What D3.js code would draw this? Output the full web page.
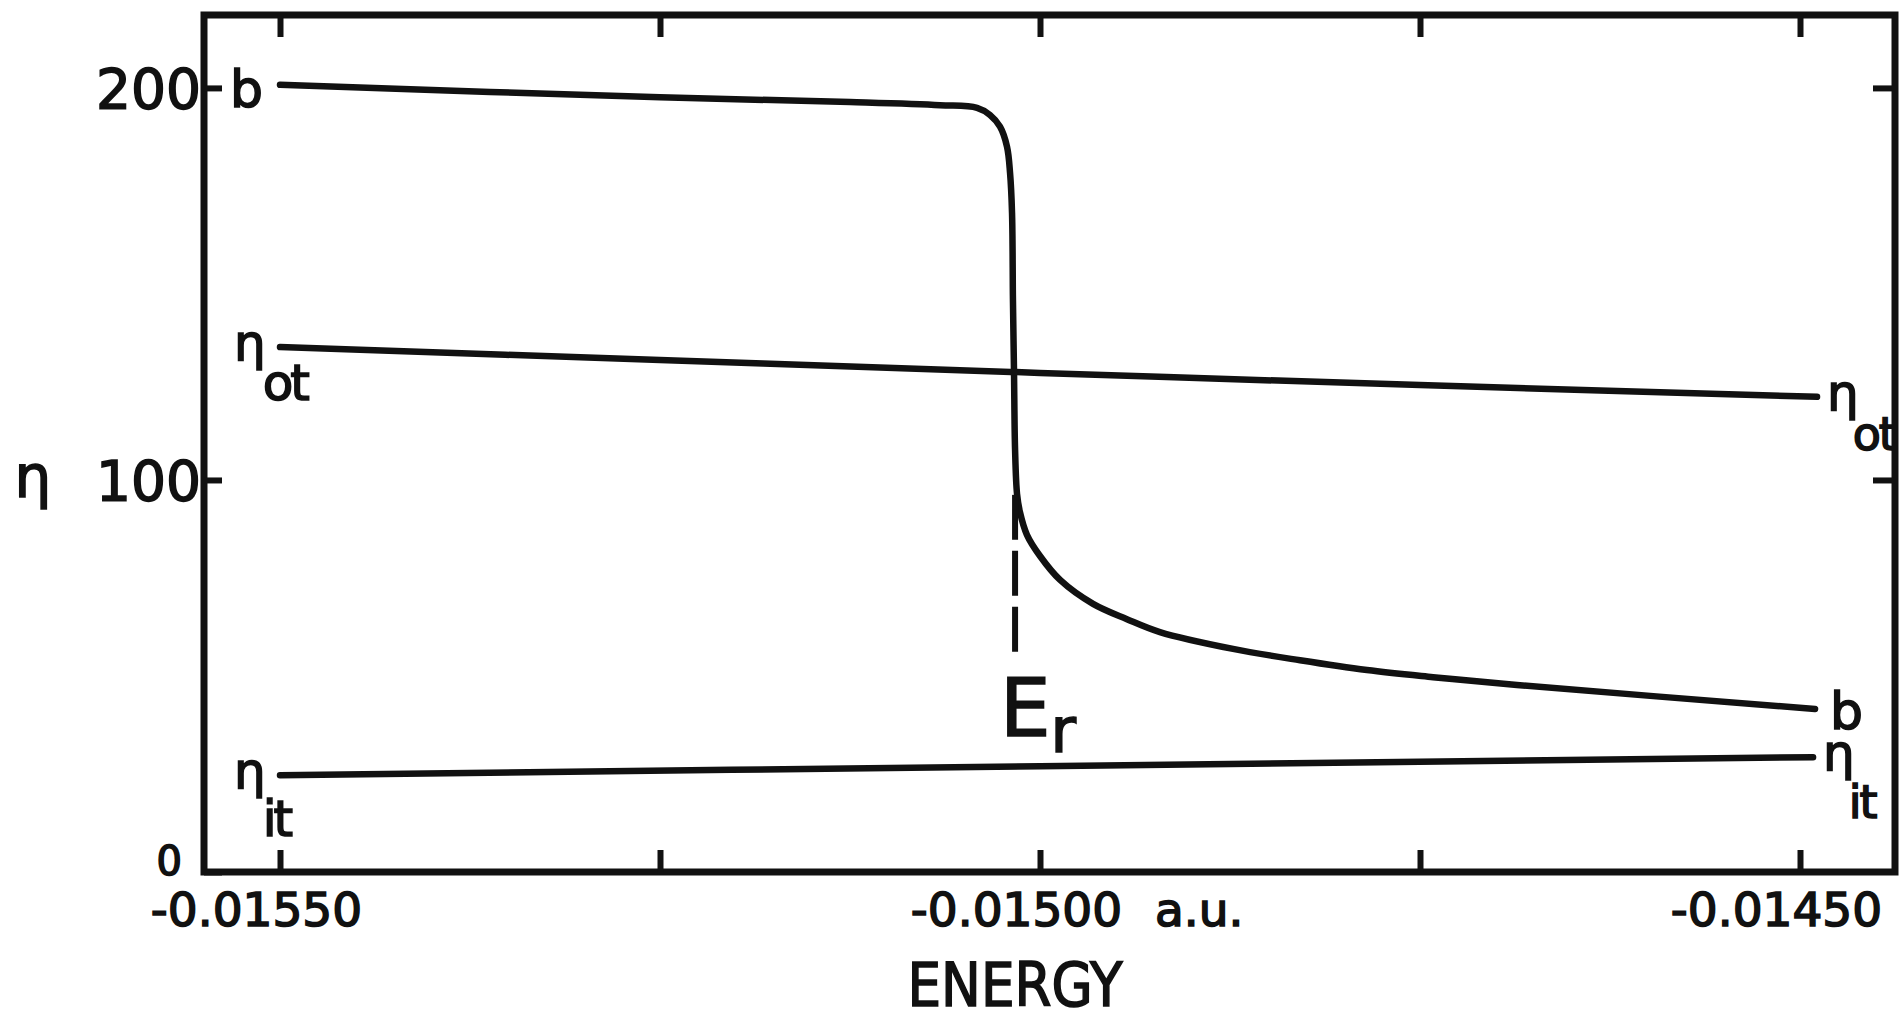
<!DOCTYPE html>
<html>
<head>
<meta charset="utf-8">
<script src="https://cdn.jsdelivr.net/npm/d3@7"></script>
<style>
  body { margin: 0; background: #fff; }
  svg { display: block; font-family: "DejaVu Sans", sans-serif; }
  .curve { fill: none; stroke: #111; stroke-width: 6.5; stroke-linecap: round; stroke-linejoin: round; }
  .frame { fill: none; stroke: #111; stroke-width: 7; }
  .axis path { display: none; }
  .axis line { stroke: #111; stroke-width: 6; }
  text { fill: #111; stroke: #111; stroke-width: 1.6px; }
</style>
</head>
<body>
<svg width="1900" height="1021"></svg>
<script>
// energy (a.u.) vs eta
const bEnergy = [
  -0.01550, -0.01525, -0.015125, -0.0150658, -0.0150414, -0.0150329, -0.0150263,
  -0.0150217, -0.0150197, -0.0150184, -0.0150178, -0.0150171, -0.0150164, -0.0150151,
  -0.0150132, -0.0150086, -0.0150000, -0.0149868, -0.0149651, -0.0149428, -0.0149211,
  -0.0148730, -0.0148289, -0.0147849, -0.0147414, -0.0146862, -0.0144901
]
const bEta = [
  200.8, 197.6, 196.4, 195.6, 194.9, 193.1, 190.1,
  185.0, 178.3, 168.1, 145.9, 127.6, 107.7, 96.4,
  91.8, 86.0, 80.6, 74.5, 68.4, 64.5, 61.2,
  56.9, 54.0, 51.5, 49.7, 47.7, 41.6
]
const otEnergy = [-0.01550, -0.01525, -0.01500, -0.01475, -0.0144888]
const otEta = [133.9, 130.6, 127.3, 124.2, 121.2]
const itEnergy = [-0.01550, -0.01500, -0.0144914]
const itEta = [24.7, 27.0, 29.3]

// resonance energy E_r and the span of its dashed marker
const resonanceEnergy = -0.0150164
const resonanceEta = [96.2, 54.1]

const energyRange = [-0.01555, -0.0144375]
const etaRange = [0, 218.6]
const energyTicks = [-0.01550, -0.01525, -0.01500, -0.01475, -0.01450]
const energyLabels = ['-0.01550', '', '-0.01500', '', '-0.01450']
const etaTicks = [0, 100, 200]

const svg = d3.select('svg')

const x = d3.scaleLinear().domain(energyRange).range([204, 1895])
const y = d3.scaleLinear().domain(etaRange).range([872, 15])

// frame
svg.append('rect')
  .attr('class', 'frame')
  .attr('x', x(energyRange[0]))
  .attr('y', y(etaRange[1]))
  .attr('width', x(energyRange[1]) - x(energyRange[0]))
  .attr('height', y(etaRange[0]) - y(etaRange[1]))

// bottom axis, ticks point inward
const bottom = svg.append('g')
  .attr('class', 'axis')
  .attr('transform', `translate(0, ${y(0)})`)
  .call(d3.axisBottom(x).tickValues(energyTicks).tickSizeInner(-22).tickSizeOuter(0)
    .tickFormat((d, i) => energyLabels[i]))
  .attr('font-family', null).attr('font-size', null)
bottom.selectAll('text')
  .attr('font-size', 47)
  .attr('y', 54).attr('dy', null).attr('dx', -24)

// "a.u." after the middle label
svg.append('text')
  .attr('x', x(-0.015) + 115)
  .attr('y', y(0) + 54)
  .attr('font-size', 47)
  .text('a.u.')

svg.append('g')
  .attr('class', 'axis')
  .attr('transform', `translate(0, ${y(etaRange[1])})`)
  .call(d3.axisTop(x).tickValues(energyTicks).tickSizeInner(-22).tickSizeOuter(0).tickFormat(''))

const left = svg.append('g')
  .attr('class', 'axis')
  .attr('transform', `translate(${x(energyRange[0])}, 0)`)
  .call(d3.axisLeft(y).tickValues(etaTicks).tickSizeInner(-18).tickSizeOuter(0).tickFormat(d3.format('d')))
  .attr('font-family', null).attr('font-size', null)
left.selectAll('text')
  .attr('font-size', d => d === 0 ? 40 : 55)
  .attr('x', d => d === 0 ? -22 : -3)
  .attr('dy', d => d === 0 ? '0.05em' : '0.36em')

svg.append('g')
  .attr('class', 'axis')
  .attr('transform', `translate(${x(energyRange[1])}, 0)`)
  .call(d3.axisRight(y).tickValues([100, 200]).tickSizeInner(-22).tickSizeOuter(0).tickFormat(''))

// axis titles
svg.append('text')
  .attr('x', x(-0.015) - 25)
  .attr('y', 1006)
  .attr('text-anchor', 'middle')
  .attr('font-size', 60)
  .attr('textLength', 215)
  .attr('lengthAdjust', 'spacingAndGlyphs')
  .text('ENERGY')

svg.append('text')
  .attr('x', 33)
  .attr('y', y(100) + 17)
  .attr('text-anchor', 'middle')
  .attr('font-size', 58)
  .text('η')

// curves
const line = d3.line()
  .x(d => x(d[0]))
  .y(d => y(d[1]))
  .curve(d3.curveCatmullRom.alpha(0.5))

const series = [
  {name: 'b', pts: d3.zip(bEnergy, bEta)},
  {name: 'ot', pts: d3.zip(otEnergy, otEta)},
  {name: 'it', pts: d3.zip(itEnergy, itEta)},
]

svg.selectAll('path.curve')
  .data(series)
  .enter()
  .append('path')
  .attr('class', 'curve')
  .attr('d', d => line(d.pts))

// dashed E_r marker
svg.append('line')
  .attr('x1', x(resonanceEnergy)).attr('x2', x(resonanceEnergy))
  .attr('y1', y(resonanceEta[0])).attr('y2', y(resonanceEta[1]))
  .attr('stroke', '#111')
  .attr('stroke-width', 6)
  .attr('stroke-dasharray', '45 11')

const er = svg.append('text')
  .attr('x', x(resonanceEnergy) - 15)
  .attr('y', y(resonanceEta[1]) + 76)
  .attr('font-size', 80)
  .text('E')
er.append('tspan')
  .attr('dy', 16)
  .attr('font-size', 62)
  .text('r')

// curve end labels
const first = d => d.pts[0]
const last = d => d.pts[d.pts.length - 1]

series.forEach(s => {
  const a = first(s), z = last(s)
  if (s.name === 'b') {
    svg.append('text')
      .attr('x', x(a[0]) - 17).attr('y', y(a[1]) + 22)
      .attr('text-anchor', 'end').attr('font-size', 52).text('b')
    svg.append('text')
      .attr('x', x(z[0]) + 15).attr('y', y(z[1]) + 20)
      .attr('font-size', 52).text('b')
    return
  }
  const subDy = s.name === 'ot' ? 40 : 48
  const ends = [
    {px: x(a[0]) - 46, py: y(a[1]), shift: -3, size: 50, spacing: -3},
    {px: x(z[0]) + 10, py: y(z[1]), shift: -6, size: 46, spacing: -2},
  ]
  ends.forEach(e => {
    const t = svg.append('text')
      .attr('x', e.px).attr('y', e.py + 13)
      .attr('font-size', 50).text('η')
    t.append('tspan')
      .attr('dx', e.shift).attr('dy', subDy)
      .attr('font-size', e.size)
      .attr('letter-spacing', e.spacing)
      .text(s.name)
  })
})
</script>
</body>
